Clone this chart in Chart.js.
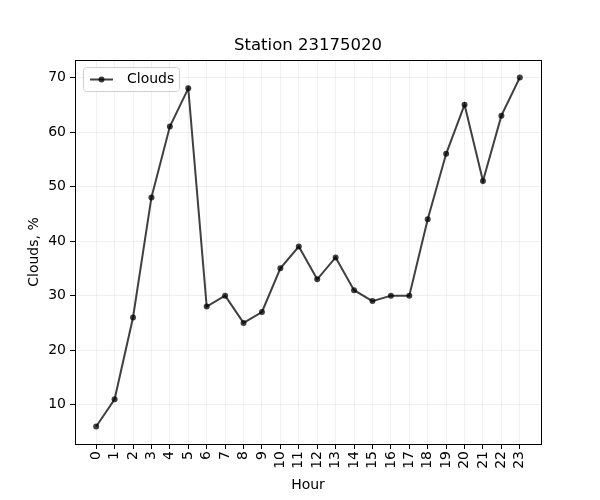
<!DOCTYPE html>
<html>
<head>
<meta charset="utf-8">
<script src="https://cdn.jsdelivr.net/npm/chart.js@4/dist/chart.umd.min.js"></script>
<style>
  html, body { margin: 0; padding: 0; background: #fff; }
  #wrap { width: 600px; height: 500px; }
</style>
</head>
<body>
<div id="wrap"><canvas id="cloudChart"></canvas></div>
<script>
// Chart values
const hours = [0, 1, 2, 3, 4, 5, 6, 7, 8, 9, 10, 11, 12, 13, 14, 15, 16, 17, 18, 19, 20, 21, 22, 23];
const clouds = [6, 11, 26, 48, 61, 68, 28, 30, 25, 27, 35, 39, 33, 37, 31, 29, 30, 30, 44, 56, 65, 51, 63, 70];
const yTicks = [10, 20, 30, 40, 50, 60, 70];
const seriesName = 'Clouds';
const chartTitle = 'Station 23175020';

const FONT = "'DejaVu Sans', sans-serif";
const LINE_COLOR = 'rgba(0, 0, 0, 0.75)';

// frame, title and legend box like matplotlib
const framePlugin = {
    id: 'frame',
    afterDraw(chart) {
        const { ctx, chartArea: a } = chart;
        ctx.save();
        ctx.strokeStyle = '#000';
        ctx.lineWidth = 1;
        ctx.strokeRect(a.left + 0.5, a.top + 0.5, a.right - a.left, a.bottom - a.top);

        // title centred over the plot area
        ctx.fillStyle = '#000';
        ctx.font = '16.5px ' + FONT;
        ctx.textAlign = 'center';
        ctx.textBaseline = 'middle';
        ctx.fillText(chartTitle, (a.left + a.right) / 2, a.top - 14);

        // legend
        const x = a.left + 8, y = a.top + 7, w = 96, h = 24;
        ctx.beginPath();
        ctx.roundRect(x + 0.5, y + 0.5, w, h, 3);
        ctx.fillStyle = 'rgba(255,255,255,0.8)';
        ctx.fill();
        ctx.strokeStyle = '#d0d0d0';
        ctx.stroke();
        const my = y + h / 2 + 0.5;
        ctx.beginPath();
        ctx.moveTo(x + 7, my);
        ctx.lineTo(x + 30, my);
        ctx.strokeStyle = LINE_COLOR;
        ctx.lineWidth = 2;
        ctx.stroke();
        ctx.beginPath();
        ctx.arc(x + 18.5, my, 3, 0, Math.PI * 2);
        ctx.fillStyle = LINE_COLOR;
        ctx.fill();
        ctx.fillStyle = '#000';
        ctx.font = '14px ' + FONT;
        ctx.textAlign = 'left';
        ctx.fillText(seriesName, x + 44, my);
        ctx.restore();
    }
};

const ctx = document.getElementById('cloudChart').getContext('2d');
new Chart(ctx, {
    type: 'line',
    data: {
        datasets: [{
            label: seriesName,
            data: hours.map((h, i) => ({ x: h, y: clouds[i] })),
            borderColor: LINE_COLOR,
            backgroundColor: LINE_COLOR,
            borderWidth: 2,
            pointRadius: 3,
            pointBorderWidth: 0,
            pointBackgroundColor: LINE_COLOR,
            tension: 0,
            fill: false
        }]
    },
    options: {
        responsive: true,
        maintainAspectRatio: false,
        animation: false,
        layout: { padding: { left: 26, right: 59, top: 60, bottom: 6 } },
        plugins: {
            legend: { display: false },
            tooltip: { enabled: false },
            title: { display: false }
        },
        scales: {
            x: {
                type: 'linear',
                min: -1.15,
                max: 24.15,
                afterBuildTicks: s => { s.ticks = hours.map(v => ({ value: v })); },
                afterFit: s => { s.height = 50; },
                ticks: {
                    color: '#000',
                    font: { family: FONT, size: 14 },
                    minRotation: 90,
                    maxRotation: 90,
                    autoSkip: false,
                    padding: 2,
                    callback: v => String(v)
                },
                grid: { color: 'rgba(0,0,0,0.06)', tickColor: '#000', tickLength: 5 },
                border: { display: false },
                title: {
                    display: true,
                    text: 'Hour',
                    color: '#000',
                    font: { family: FONT, size: 14 },
                    padding: { top: 0, bottom: 0 }
                }
            },
            y: {
                min: 2.8,
                max: 73.2,
                afterBuildTicks: s => { s.ticks = yTicks.map(v => ({ value: v })); },
                afterFit: s => { s.width = 49; },
                ticks: {
                    color: '#000',
                    font: { family: FONT, size: 14 },
                    padding: 4,
                    callback: v => String(v)
                },
                grid: { color: 'rgba(0,0,0,0.06)', tickColor: '#000', tickLength: 5 },
                border: { display: false },
                title: {
                    display: true,
                    text: 'Clouds, %',
                    color: '#000',
                    font: { family: FONT, size: 14 },
                    padding: { top: 0, bottom: 0 }
                }
            }
        }
    },
    plugins: [framePlugin]
});
</script>
</body>
</html>
